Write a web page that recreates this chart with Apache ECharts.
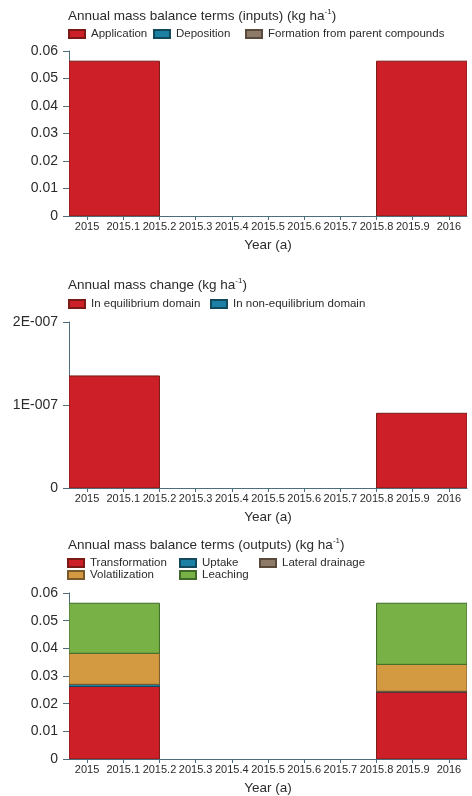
<!DOCTYPE html>
<html>
<head>
<meta charset="utf-8">
<script src="https://cdn.jsdelivr.net/npm/echarts@6/dist/echarts.min.js"></script>
<style>html,body{margin:0;padding:0;background:#fff}#c{width:472px;height:796px}</style>
</head>
<body>
<div id="c"></div>
<script>
// ---- data ----
const tickLabels = ['2015','2015.1','2015.2','2015.3','2015.4','2015.5','2015.6','2015.7','2015.8','2015.9','2016'];
const periodStart = [2014.95, 2015.8];
const periodEnd = [2015.2, 2016.05];
// inputs (kg/ha)
const application = [0.0563, 0.0563];
const deposition = [0, 0];
const formation = [0, 0];
// mass change (kg/ha)
const equilibrium = [1.35e-7, 0.9e-7];
const nonEquilibrium = [0, 0];
// outputs (kg/ha)
const transformation = [0.0262, 0.0242];
const uptake = [0.0008, 0.0003];
const lateralDrainage = [0, 0];
const volatilization = [0.0112, 0.0097];
const leaching = [0.0181, 0.0221];
const yTicks1 = [0, 0.01, 0.02, 0.03, 0.04, 0.05, 0.06];
const yTicks2 = [0, 1e-7, 2e-7];

// ---- styles ----
const FONT = '"Liberation Sans", Arial, sans-serif';
const TXT = '#2b2b2b';
const AX = '#4e6d7a';
const C = {
  red: ['#cc1f27', '#7a1a16'],
  blue: ['#1b80a3', '#124a5c'],
  brown: ['#8e7a68', '#5a4a3c'],
  orange: ['#d39a42', '#7a5a2a'],
  green: ['#78b146', '#3f6a2a']
};
const tickValues = tickLabels.map(Number);

function stackData(list) {
  const base = periodStart.map(() => 0);
  return list.map(arr => arr.map((v, i) => {
    const b = base[i];
    base[i] += v;
    return [periodStart[i], periodEnd[i], b, b + v];
  }));
}

function renderItem(params, api) {
  const x0 = api.value(0), x1 = api.value(1), y0 = api.value(2), y1 = api.value(3);
  if (!(y1 > y0)) return null;
  const p0 = api.coord([x0, y1]);
  const p1 = api.coord([x1, y0]);
  const s = api.style();
  return {
    type: 'rect',
    shape: { x: p0[0], y: p0[1], width: p1[0] - p0[0], height: p1[1] - p0[1] },
    style: { fill: s.fill, stroke: s.stroke, lineWidth: 1 }
  };
}

function series(name, data, col, idx) {
  return {
    type: 'custom', name, renderItem, data,
    xAxisIndex: idx, yAxisIndex: idx, clip: true,
    encode: { x: [0, 1], y: [2, 3] },
    itemStyle: { color: col[0], borderColor: col[1], borderWidth: 1 }
  };
}

function xAxis(idx) {
  return {
    type: 'value', gridIndex: idx, min: 2014.95, max: 2016.05,
    axisLine: { show: true, onZero: false, lineStyle: { color: AX, width: 1 } },
    axisTick: { show: true, customValues: tickValues, length: 4, lineStyle: { color: AX } },
    axisLabel: {
      customValues: tickValues, fontSize: 11, margin: 5, color: TXT, fontFamily: FONT,
      formatter: v => {
        let best = 0;
        tickValues.forEach((t, i) => { if (Math.abs(t - v) < Math.abs(tickValues[best] - v)) best = i; });
        return tickLabels[best];
      }
    },
    splitLine: { show: false },
    name: 'Year (a)', nameLocation: 'middle', nameGap: 22,
    nameTextStyle: { fontSize: 13.5, color: TXT, fontFamily: FONT }
  };
}

function yAxis(idx, ticks, fmt) {
  return {
    type: 'value', gridIndex: idx, min: ticks[0], max: ticks[ticks.length - 1],
    interval: ticks[1] - ticks[0],
    axisLine: { show: true, lineStyle: { color: AX, width: 1 } },
    axisTick: { show: true, length: 6, lineStyle: { color: AX } },
    axisLabel: { fontSize: 14, margin: 11, color: TXT, fontFamily: FONT, formatter: fmt },
    splitLine: { show: false }
  };
}

function title(text, top) {
  return {
    text, left: 68, top, padding: 0,
    textStyle: {
      fontSize: 13.5, fontWeight: 'normal', color: TXT, fontFamily: FONT, lineHeight: 16,
      rich: { sup: { fontSize: 8, color: TXT, fontFamily: FONT, padding: [0, 0, 8, 0] } }
    }
  };
}

function legend(name, left, top) {
  return {
    data: [name], left, top, padding: 0, icon: 'rect', itemWidth: 16, itemHeight: 8, itemGap: 0,
    textStyle: { fontSize: 11.5, color: TXT, fontFamily: FONT, padding: [0, 0, 0, 1] }
  };
}

const s1 = stackData([application, deposition, formation]);
const s2 = stackData([equilibrium, nonEquilibrium]);
const s3 = stackData([transformation, uptake, lateralDrainage, volatilization, leaching]);

const fmt1 = v => (v === 0 ? '0' : String(Math.round(v * 100) / 100));
const fmt2 = v => (v === 0 ? '0' : Math.round(v / 1e-7) + 'E-007');

const option = {
  animation: false,
  backgroundColor: '#fff',
  title: [
    title('Annual mass balance terms (inputs) (kg ha{sup|-1})', 8),
    title('Annual mass change (kg ha{sup|-1})', 277),
    title('Annual mass balance terms (outputs) (kg ha{sup|-1})', 537)
  ],
  legend: [
    legend('Application', 68, 28),
    legend('Deposition', 153, 28),
    legend('Formation from parent compounds', 245, 28),
    legend('In equilibrium domain', 68, 298),
    legend('In non-equilibrium domain', 210, 298),
    legend('Transformation', 67, 557),
    legend('Volatilization', 67, 569),
    legend('Uptake', 179, 557),
    legend('Leaching', 179, 569),
    legend('Lateral drainage', 259, 557)
  ],
  grid: [
    { left: 69, right: 5, top: 51, height: 165 },
    { left: 69, right: 5, top: 322, height: 166 },
    { left: 69, right: 5, top: 593, height: 166 }
  ],
  xAxis: [xAxis(0), xAxis(1), xAxis(2)],
  yAxis: [yAxis(0, yTicks1, fmt1), yAxis(1, yTicks2, fmt2), yAxis(2, yTicks1, fmt1)],
  series: [
    series('Application', s1[0], C.red, 0),
    series('Deposition', s1[1], C.blue, 0),
    series('Formation from parent compounds', s1[2], C.brown, 0),
    series('In equilibrium domain', s2[0], C.red, 1),
    series('In non-equilibrium domain', s2[1], C.blue, 1),
    series('Transformation', s3[0], C.red, 2),
    series('Uptake', s3[1], C.blue, 2),
    series('Lateral drainage', s3[2], C.brown, 2),
    series('Volatilization', s3[3], C.orange, 2),
    series('Leaching', s3[4], C.green, 2)
  ]
};
const chart = echarts.init(document.getElementById('c'), null, { renderer: 'canvas' });
chart.setOption(option);
</script>
</body>
</html>
